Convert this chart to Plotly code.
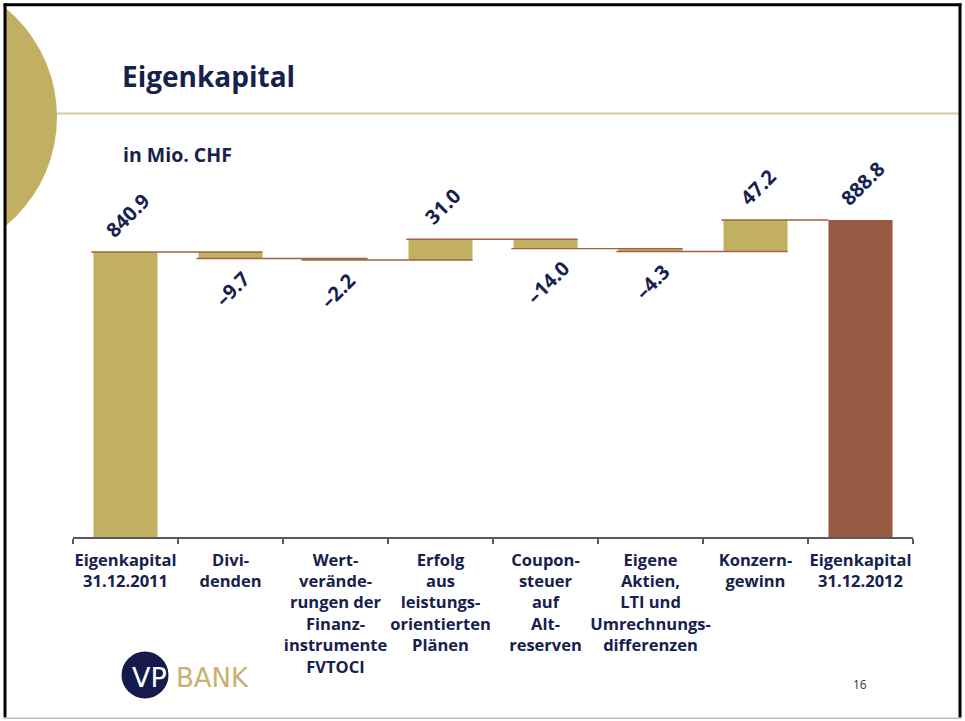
import plotly.graph_objects as go

W, H = 965, 721

# ---------------- data ----------------
categories = [
    "Eigenkapital<br>31.12.2011",
    "Divi-<br>denden",
    "Wert-<br>verände-<br>rungen der<br>Finanz-<br>instrumente<br>FVTOCI",
    "Erfolg<br>aus<br>leistungs-<br>orientierten<br>Plänen",
    "Coupon-<br>steuer<br>auf<br>Alt-<br>reserven",
    "Eigene<br>Aktien,<br>LTI und<br>Umrechnungs-<br>differenzen",
    "Konzern-<br>gewinn",
    "Eigenkapital<br>31.12.2012",
]
start_value = 840.9
changes = [-9.7, -2.2, 31.0, -14.0, -4.3, 47.2]
end_value = 888.8

# ---------------- styles ----------------
GOLD = "#C2B062"
BROWN = "#965A42"
NAVY = "#16214D"
CONNECTOR = "#A0604A"
FONT = "Open Sans"
BAR_W = 0.61

# waterfall construction from the data
bases = [0.0]
heights = [start_value]
levels = [start_value]
cum = start_value
for c in changes:
    bases.append(cum)
    heights.append(c)
    cum += c
    levels.append(cum)
bases.append(0.0)
heights.append(end_value)
colors = [GOLD] * (len(categories) - 1) + [BROWN]
label_values = [start_value] + changes + [end_value]
texts = [f"{v:.1f}".replace("-", "\u2013") for v in label_values]
ends = [b + h for b, h in zip(bases, heights)]


def px(x):
    return x / W


def py(y):
    return 1 - y / H


fig = go.Figure()
fig.add_trace(
    go.Bar(
        x=categories,
        y=heights,
        base=bases,
        width=BAR_W,
        marker=dict(color=colors, line=dict(width=0)),
        hoverinfo="skip",
    )
)

shapes = []
# connectors between bars (spanning style)
last = len(categories) - 1
for i, lv in enumerate(levels):
    x0 = i - BAR_W / 2 - 0.02
    x1 = (i + 1) + BAR_W / 2 if (i + 1) < last else (i + 1) - BAR_W / 2
    shapes.append(dict(type="line", xref="x", yref="y", x0=x0, x1=x1, y0=lv, y1=lv,
                       line=dict(color=CONNECTOR, width=1.4), layer="above"))

# slide decoration
shapes += [
    dict(type="line", xref="paper", yref="paper", x0=px(40), x1=px(959), y0=py(113.5), y1=py(113.5),
         line=dict(color="#D8CC98", width=2), layer="below"),
    dict(type="circle", xref="paper", yref="paper", x0=px(-84 - 141), x1=px(-84 + 141),
         y0=py(117 + 141), y1=py(117 - 141), fillcolor=GOLD, line=dict(width=0), layer="below"),
    dict(type="rect", xref="paper", yref="paper", x0=px(-10), x1=px(4), y0=py(730), y1=py(-10),
         fillcolor="white", line=dict(width=0), layer="above"),
    dict(type="line", xref="paper", yref="paper", x0=px(3.5), x1=px(961.5), y0=py(4.7), y1=py(4.7),
         line=dict(color="black", width=3)),
    dict(type="line", xref="paper", yref="paper", x0=px(5), x1=px(5), y0=py(3.5), y1=py(717.5),
         line=dict(color="black", width=3)),
    dict(type="line", xref="paper", yref="paper", x0=px(960), x1=px(960), y0=py(3.5), y1=py(717.5),
         line=dict(color="black", width=3)),
    dict(type="line", xref="paper", yref="paper", x0=px(3.5), x1=px(961.5), y0=py(718.3), y1=py(718.3),
         line=dict(color="#BBBBBB", width=1.5)),
    dict(type="circle", xref="paper", yref="paper", x0=px(145 - 23.5), x1=px(145 + 23.5),
         y0=py(675 + 23.5), y1=py(675 - 23.5), fillcolor="#141A4B", line=dict(width=0)),
]

annotations = []
# value labels, rotated, above increases / below decreases
for i, (cat, end, val, txt) in enumerate(zip(categories, ends, label_values, texts)):
    positive = val >= 0
    annotations.append(dict(
        x=cat, y=end, xref="x", yref="y", text=txt, showarrow=False, textangle=-45,
        xanchor="center", yanchor="bottom" if positive else "top",
        xshift=2, yshift=6 if positive else -4,
        font=dict(family=FONT, size=20, color=NAVY, weight="bold"),
    ))

annotations += [
    dict(text="Eigenkapital", xref="paper", yref="paper", x=px(120), y=py(76), xanchor="left",
         yanchor="middle", showarrow=False, font=dict(family=FONT, size=28, color=NAVY, weight="bold")),
    dict(text="in Mio. CHF", xref="paper", yref="paper", x=px(121), y=py(154.5), xanchor="left",
         yanchor="middle", showarrow=False, font=dict(family=FONT, size=19.5, color=NAVY, weight="bold")),
    dict(text="VP", xref="paper", yref="paper", x=px(149), y=py(677), xanchor="center",
         yanchor="middle", showarrow=False, font=dict(family="DejaVu Sans", size=27, color="white")),
    dict(text="BANK", xref="paper", yref="paper", x=px(174), y=py(678), xanchor="left",
         yanchor="middle", showarrow=False, font=dict(family="DejaVu Sans", size=26, color="#C8B26C")),
    dict(text="16", xref="paper", yref="paper", x=px(860), y=py(684), xanchor="center",
         yanchor="middle", showarrow=False, font=dict(family=FONT, size=12, color="#333333")),
]

fig.update_layout(
    width=W,
    height=H,
    margin=dict(l=0, r=0, t=0, b=0, pad=0),
    paper_bgcolor="white",
    plot_bgcolor="rgba(0,0,0,0)",
    showlegend=False,
    shapes=shapes,
    annotations=annotations,
    xaxis=dict(
        domain=[px(73), px(913)],
        type="category",
        showline=True,
        linecolor="#5A5A5A",
        linewidth=1.5,
        ticks="outside",
        tickson="boundaries",
        ticklen=5,
        tickwidth=1.5,
        tickcolor="#5A5A5A",
        tickangle=0,
        ticklabelstandoff=7,
        showgrid=False,
        zeroline=False,
        tickfont=dict(family=FONT, size=16.5, color=NAVY, weight="bold"),
    ),
    yaxis=dict(
        domain=[py(537), py(140)],
        range=[414.3, 1008.6],
        visible=False,
        showgrid=False,
        zeroline=False,
    ),
)

fig.write_html(
    "out.html",
    config={"displayModeBar": False},
    post_script="document.body.style.margin='0';document.body.style.overflow='hidden';",
)
